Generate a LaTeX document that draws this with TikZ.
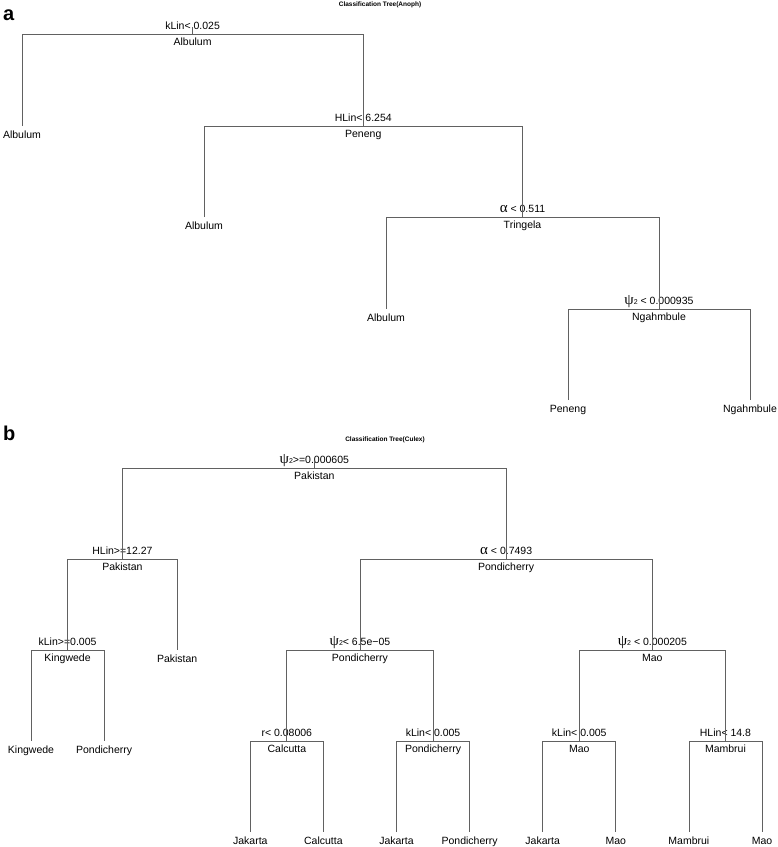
\documentclass[tikz,border=0pt]{standalone}
\usepackage{fontspec}
\setmainfont{Liberation Sans}
\newfontfamily\grk{Liberation Serif}
\usetikzlibrary{calc}
\newcommand\gpsi{{\grk\fontsize{15}{15}\selectfont ψ}{\fontsize{7}{7}\selectfont 2}}
\newcommand\galpha{{\grk\fontsize{15}{15}\selectfont α}}
\tikzset{
  edge/.style={draw=black!62, line width=0.75pt},
  txt/.style={anchor=base, inner sep=0pt, text=black, font=\fontsize{10.5}{12}\selectfont},
  ttl/.style={anchor=base, inner sep=0pt, font=\fontsize{6.5}{7}\selectfont\bfseries},
  panel/.style={anchor=base west, inner sep=0pt, font=\fontsize{20}{20}\selectfont\bfseries},
}
\begin{document}
\begin{tikzpicture}[x=1pt,y=-1pt]
\useasboundingbox (0,0) rectangle (778,847);
% ---------------- panel a ----------------
\node[panel] (pa) at (3,20) {a};
\node[ttl] (ta) at (380,6) {Classification Tree(Anoph)};
% internal nodes (bar points)
\coordinate (A0) at (192.6,34);
\coordinate (A1) at (363.25,126);
\coordinate (A2) at (522.5,217);
\coordinate (A3) at (659,309);
% leaves
\coordinate (la1) at (22,126);
\coordinate (la2) at (204,217);
\coordinate (la3) at (386,309);
\coordinate (la4) at (568,400);
\coordinate (la5) at (750,400);
% split labels
\node[txt] (A0s) at (192.6,29.5) {kLin< 0.025};
\node[txt] (A0c) at (192.6,45) {Albulum};
\node[txt] (A1s) at (363.25,121.5) {HLin< 6.254};
\node[txt] (A1c) at (363.25,137) {Peneng};
\node[txt] (A2s) at (522.5,212.5) {\galpha{} < 0.511};
\node[txt] (A2c) at (522.5,228) {Tringela};
\node[txt] (A3s) at (659,304.5) {\gpsi{} < 0.000935};
\node[txt] (A3c) at (659,320) {Ngahmbule};
% leaf labels
\node[txt] (la1t) at (22,138) {Albulum};
\node[txt] (la2t) at (204,229) {Albulum};
\node[txt] (la3t) at (386,321) {Albulum};
\node[txt] (la4t) at (568,412) {Peneng};
\node[txt] (la5t) at (750,412) {Ngahmbule};
% connectors
\draw[edge] (A0) -- ++(0,-7);
\draw[edge] (la1) -- (la1 |- A0) -- (A1 |- A0) -- (A1);
\draw[edge] (la2) -- (la2 |- A1) -- (A2 |- A1) -- (A2);
\draw[edge] (la3) -- (la3 |- A2) -- (A3 |- A2) -- (A3);
\draw[edge] (la4) -- (la4 |- A3) -- (la5 |- A3) -- (la5);
% ---------------- panel b ----------------
\node[panel] (pb) at (3,440) {b};
\node[ttl] (tb) at (385,441) {Classification Tree(Culex)};
\coordinate (B0) at (314.3,468);
\coordinate (Bh) at (122.4,559);
\coordinate (Ba) at (506.15,559);
\coordinate (Bk) at (67.55,650);
\coordinate (Bp1) at (359.95,650);
\coordinate (Bp2) at (652.35,650);
\coordinate (Br) at (286.85,741);
\coordinate (Bkp) at (433.05,741);
\coordinate (Bkm) at (579.25,741);
\coordinate (Bhm) at (725.45,741);
% leaves
\coordinate (lb1) at (31,741);
\coordinate (lb2) at (104.1,741);
\coordinate (lb3) at (177.2,650);
\coordinate (lb4) at (250.3,832);
\coordinate (lb5) at (323.4,832);
\coordinate (lb6) at (396.5,832);
\coordinate (lb7) at (469.6,832);
\coordinate (lb8) at (542.7,832);
\coordinate (lb9) at (615.8,832);
\coordinate (lb10) at (688.9,832);
\coordinate (lb11) at (762,832);
% split and class labels
\node[txt] (B0s) at (314.3,463.5) {\gpsi{}>=0.000605};
\node[txt] (B0c) at (314.3,479) {Pakistan};
\node[txt] (Bhs) at (122.4,554.5) {HLin>=12.27};
\node[txt] (Bhc) at (122.4,570) {Pakistan};
\node[txt] (Bas) at (506.15,554.5) {\galpha{} < 0.7493};
\node[txt] (Bac) at (506.15,570) {Pondicherry};
\node[txt] (Bks) at (67.55,645.5) {kLin>=0.005};
\node[txt] (Bkc) at (67.55,661) {Kingwede};
\node[txt] (Bp1s) at (359.95,645.5) {\gpsi{}< 6.5e−05};
\node[txt] (Bp1c) at (359.95,661) {Pondicherry};
\node[txt] (Bp2s) at (652.35,645.5) {\gpsi{} < 0.000205};
\node[txt] (Bp2c) at (652.35,661) {Mao};
\node[txt] (Brs) at (286.85,736.5) {r< 0.08006};
\node[txt] (Brc) at (286.85,752) {Calcutta};
\node[txt] (Bkps) at (433.05,736.5) {kLin< 0.005};
\node[txt] (Bkpc) at (433.05,752) {Pondicherry};
\node[txt] (Bkms) at (579.25,736.5) {kLin< 0.005};
\node[txt] (Bkmc) at (579.25,752) {Mao};
\node[txt] (Bhms) at (725.45,736.5) {HLin< 14.8};
\node[txt] (Bhmc) at (725.45,752) {Mambrui};
% leaf labels
\node[txt] (lb1t) at (31,753) {Kingwede};
\node[txt] (lb2t) at (104.1,753) {Pondicherry};
\node[txt] (lb3t) at (177.2,662) {Pakistan};
\node[txt] (lb4t) at (250.3,844) {Jakarta};
\node[txt] (lb5t) at (323.4,844) {Calcutta};
\node[txt] (lb6t) at (396.5,844) {Jakarta};
\node[txt] (lb7t) at (469.6,844) {Pondicherry};
\node[txt] (lb8t) at (542.7,844) {Jakarta};
\node[txt] (lb9t) at (615.8,844) {Mao};
\node[txt] (lb10t) at (688.9,844) {Mambrui};
\node[txt] (lb11t) at (762,844) {Mao};
% connectors
\draw[edge] (B0) -- ++(0,-7);
\draw[edge] (Bh) -- (Bh |- B0) -- (Ba |- B0) -- (Ba);
\draw[edge] (Bk) -- (Bk |- Bh) -- (lb3 |- Bh) -- (lb3);
\draw[edge] (lb1) -- (lb1 |- Bk) -- (lb2 |- Bk) -- (lb2);
\draw[edge] (Bp1) -- (Bp1 |- Ba) -- (Bp2 |- Ba) -- (Bp2);
\draw[edge] (Br) -- (Br |- Bp1) -- (Bkp |- Bp1) -- (Bkp);
\draw[edge] (Bkm) -- (Bkm |- Bp2) -- (Bhm |- Bp2) -- (Bhm);
\draw[edge] (lb4) -- (lb4 |- Br) -- (lb5 |- Br) -- (lb5);
\draw[edge] (lb6) -- (lb6 |- Bkp) -- (lb7 |- Bkp) -- (lb7);
\draw[edge] (lb8) -- (lb8 |- Bkm) -- (lb9 |- Bkm) -- (lb9);
\draw[edge] (lb10) -- (lb10 |- Bhm) -- (lb11 |- Bhm) -- (lb11);
\end{tikzpicture}
\end{document}
